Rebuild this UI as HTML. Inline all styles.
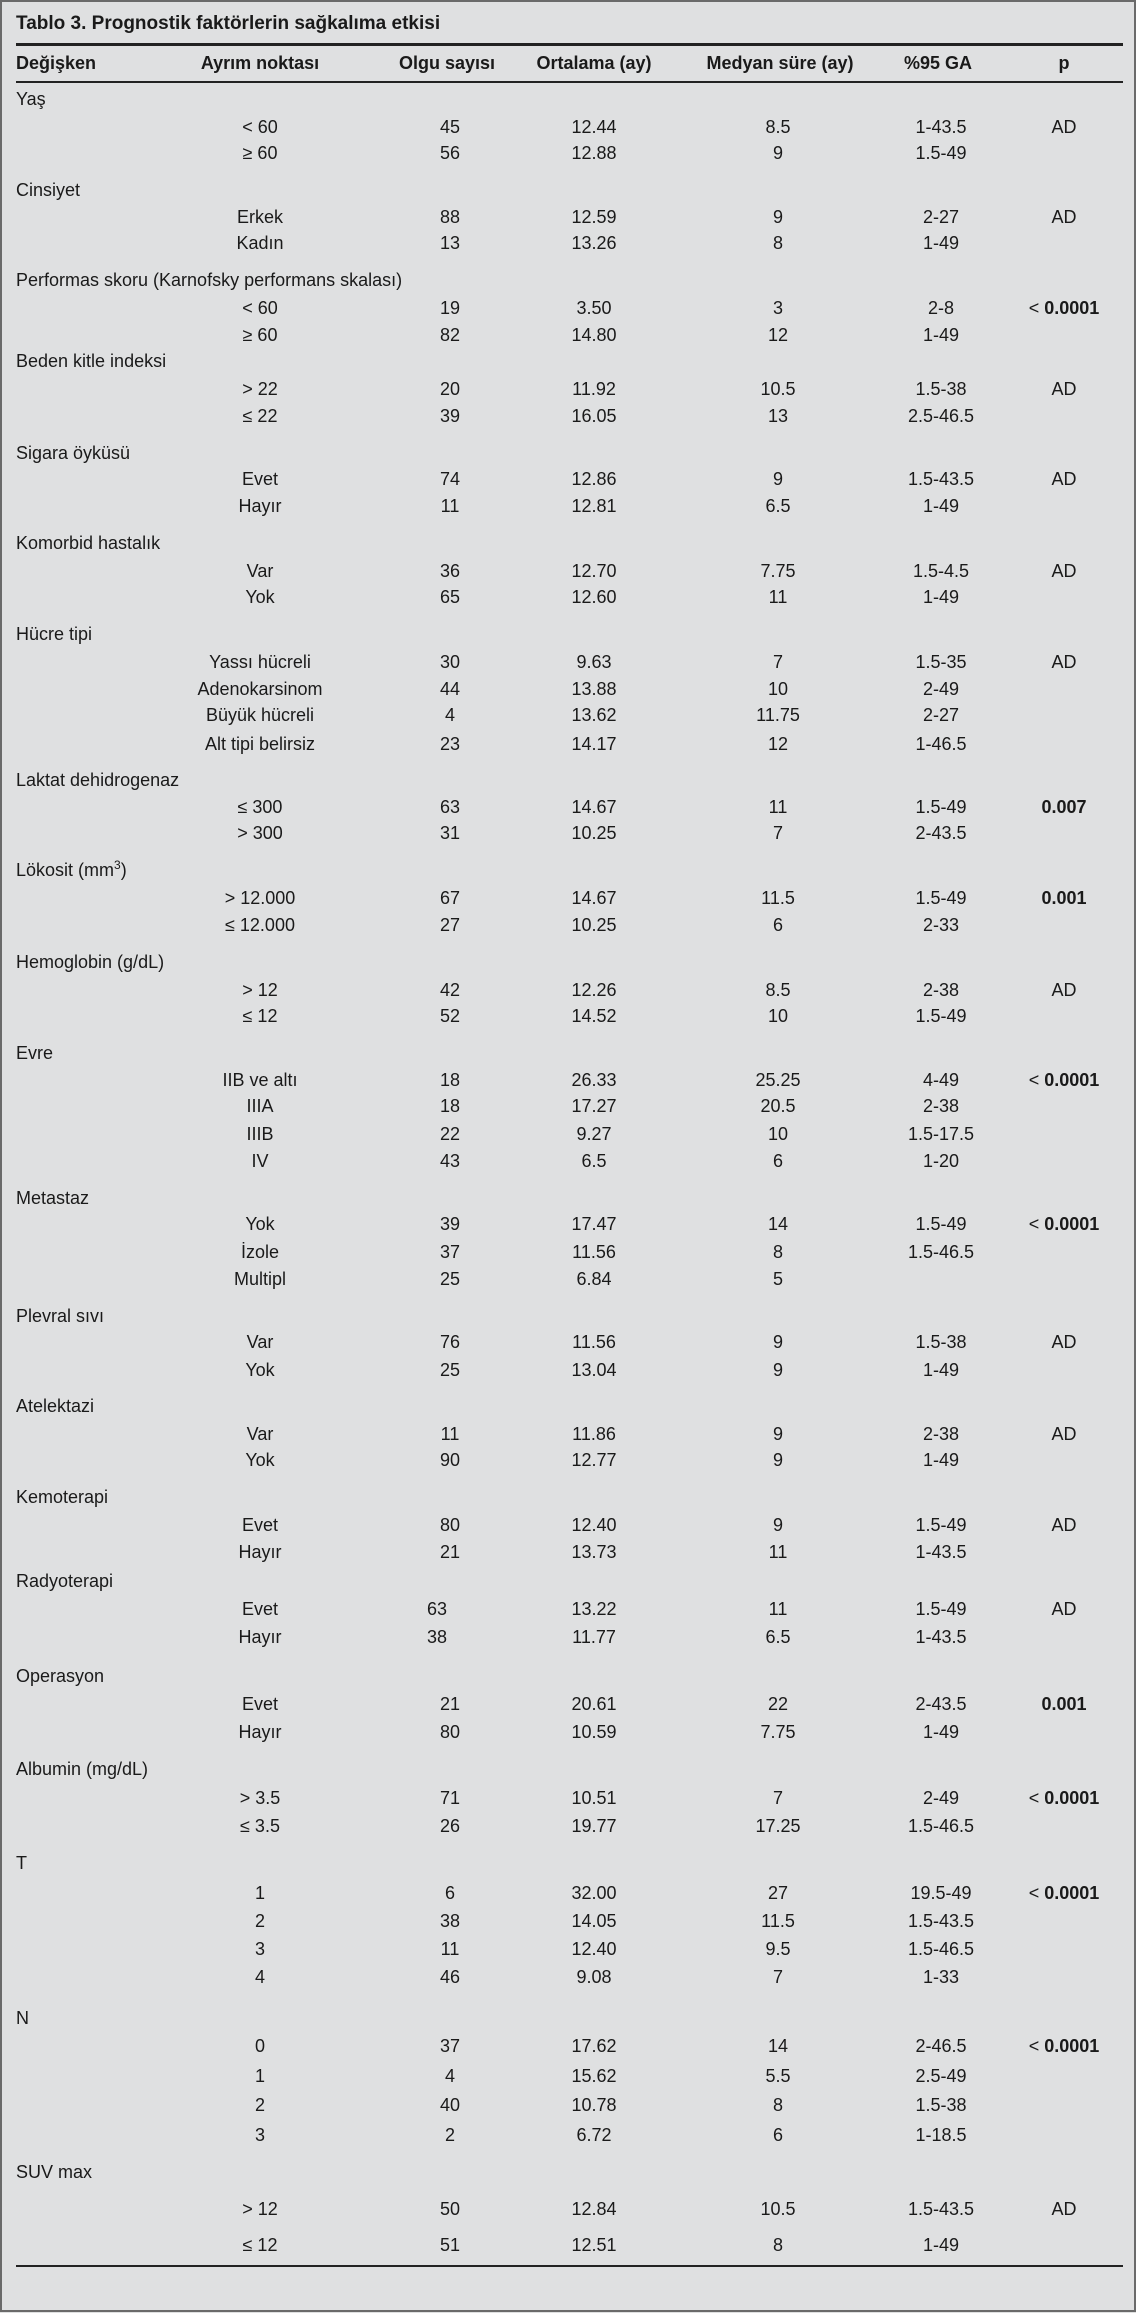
<!DOCTYPE html>
<html><head><meta charset="utf-8"><style>
html,body{margin:0;padding:0}
body{width:1136px;height:2313px;position:relative;background:#dfe0e1;font-family:"Liberation Sans",sans-serif;font-size:18px;color:#1a1a1a;overflow:hidden}
.frame{position:absolute;left:0;top:0;width:1132px;height:2308px;border:2px solid #6a6a6a;border-top-width:2px}
.r{position:absolute;left:0;width:1136px;height:26px;line-height:26px}
.r span{position:absolute;top:0;white-space:nowrap;text-align:center;width:200px}
.l{left:16px;text-align:left!important;width:auto!important}
.a{left:160px}.o{left:350px}.m{left:494px}.d{left:678px}.g{left:841px}.p{left:964px}
b{font-weight:bold}
.hr{position:absolute;left:16px;width:1107px;background:#222}
</style></head><body>
<div class="frame"></div>
<div class="r" style="top:11px;font-weight:bold;font-size:19px"><span class="l">Tablo 3. Prognostik faktörlerin sağkalıma etkisi</span></div>
<div class="hr" style="top:43px;height:3px"></div>
<div class="r" style="top:50px;font-weight:bold"><span class="l">Değişken</span><span class="a">Ayrım noktası</span><span class="o" style="left:347px">Olgu sayısı</span><span class="m">Ortalama (ay)</span><span class="d" style="left:680px">Medyan süre (ay)</span><span class="g" style="left:838px">%95 GA</span><span class="p">p</span></div>
<div class="hr" style="top:81px;height:2px"></div>

<div class="r" style="top:86px"><span class="l">Yaş</span></div>
<div class="r" style="top:114px"><span class="a">&lt; 60</span><span class="o">45</span><span class="m">12.44</span><span class="d">8.5</span><span class="g">1-43.5</span><span class="p">AD</span></div>
<div class="r" style="top:140px"><span class="a">≥ 60</span><span class="o">56</span><span class="m">12.88</span><span class="d">9</span><span class="g">1.5-49</span></div>
<div class="r" style="top:177px"><span class="l">Cinsiyet</span></div>
<div class="r" style="top:204px"><span class="a">Erkek</span><span class="o">88</span><span class="m">12.59</span><span class="d">9</span><span class="g">2-27</span><span class="p">AD</span></div>
<div class="r" style="top:230px"><span class="a">Kadın</span><span class="o">13</span><span class="m">13.26</span><span class="d">8</span><span class="g">1-49</span></div>
<div class="r" style="top:267px"><span class="l">Performas skoru (Karnofsky performans skalası)</span></div>
<div class="r" style="top:295px"><span class="a">&lt; 60</span><span class="o">19</span><span class="m">3.50</span><span class="d">3</span><span class="g">2-8</span><span class="p">&lt; <b>0.0001</b></span></div>
<div class="r" style="top:322px"><span class="a">≥ 60</span><span class="o">82</span><span class="m">14.80</span><span class="d">12</span><span class="g">1-49</span></div>
<div class="r" style="top:348px"><span class="l">Beden kitle indeksi</span></div>
<div class="r" style="top:376px"><span class="a">&gt; 22</span><span class="o">20</span><span class="m">11.92</span><span class="d">10.5</span><span class="g">1.5-38</span><span class="p">AD</span></div>
<div class="r" style="top:403px"><span class="a">≤ 22</span><span class="o">39</span><span class="m">16.05</span><span class="d">13</span><span class="g">2.5-46.5</span></div>
<div class="r" style="top:440px"><span class="l">Sigara öyküsü</span></div>
<div class="r" style="top:466px"><span class="a">Evet</span><span class="o">74</span><span class="m">12.86</span><span class="d">9</span><span class="g">1.5-43.5</span><span class="p">AD</span></div>
<div class="r" style="top:493px"><span class="a">Hayır</span><span class="o">11</span><span class="m">12.81</span><span class="d">6.5</span><span class="g">1-49</span></div>
<div class="r" style="top:530px"><span class="l">Komorbid hastalık</span></div>
<div class="r" style="top:558px"><span class="a">Var</span><span class="o">36</span><span class="m">12.70</span><span class="d">7.75</span><span class="g">1.5-4.5</span><span class="p">AD</span></div>
<div class="r" style="top:584px"><span class="a">Yok</span><span class="o">65</span><span class="m">12.60</span><span class="d">11</span><span class="g">1-49</span></div>
<div class="r" style="top:621px"><span class="l">Hücre tipi</span></div>
<div class="r" style="top:649px"><span class="a">Yassı hücreli</span><span class="o">30</span><span class="m">9.63</span><span class="d">7</span><span class="g">1.5-35</span><span class="p">AD</span></div>
<div class="r" style="top:676px"><span class="a">Adenokarsinom</span><span class="o">44</span><span class="m">13.88</span><span class="d">10</span><span class="g">2-49</span></div>
<div class="r" style="top:702px"><span class="a">Büyük hücreli</span><span class="o">4</span><span class="m">13.62</span><span class="d">11.75</span><span class="g">2-27</span></div>
<div class="r" style="top:731px"><span class="a">Alt tipi belirsiz</span><span class="o">23</span><span class="m">14.17</span><span class="d">12</span><span class="g">1-46.5</span></div>
<div class="r" style="top:767px"><span class="l">Laktat dehidrogenaz</span></div>
<div class="r" style="top:794px"><span class="a">≤ 300</span><span class="o">63</span><span class="m">14.67</span><span class="d">11</span><span class="g">1.5-49</span><span class="p"><b>0.007</b></span></div>
<div class="r" style="top:820px"><span class="a">&gt; 300</span><span class="o">31</span><span class="m">10.25</span><span class="d">7</span><span class="g">2-43.5</span></div>
<div class="r" style="top:857px"><span class="l">Lökosit (mm<sup style="font-size:12px;line-height:0">3</sup>)</span></div>
<div class="r" style="top:885px"><span class="a">&gt; 12.000</span><span class="o">67</span><span class="m">14.67</span><span class="d">11.5</span><span class="g">1.5-49</span><span class="p"><b>0.001</b></span></div>
<div class="r" style="top:912px"><span class="a">≤ 12.000</span><span class="o">27</span><span class="m">10.25</span><span class="d">6</span><span class="g">2-33</span></div>
<div class="r" style="top:949px"><span class="l">Hemoglobin (g/dL)</span></div>
<div class="r" style="top:977px"><span class="a">&gt; 12</span><span class="o">42</span><span class="m">12.26</span><span class="d">8.5</span><span class="g">2-38</span><span class="p">AD</span></div>
<div class="r" style="top:1003px"><span class="a">≤ 12</span><span class="o">52</span><span class="m">14.52</span><span class="d">10</span><span class="g">1.5-49</span></div>
<div class="r" style="top:1040px"><span class="l">Evre</span></div>
<div class="r" style="top:1067px"><span class="a">IIB ve altı</span><span class="o">18</span><span class="m">26.33</span><span class="d">25.25</span><span class="g">4-49</span><span class="p">&lt; <b>0.0001</b></span></div>
<div class="r" style="top:1093px"><span class="a">IIIA</span><span class="o">18</span><span class="m">17.27</span><span class="d">20.5</span><span class="g">2-38</span></div>
<div class="r" style="top:1121px"><span class="a">IIIB</span><span class="o">22</span><span class="m">9.27</span><span class="d">10</span><span class="g">1.5-17.5</span></div>
<div class="r" style="top:1148px"><span class="a">IV</span><span class="o">43</span><span class="m">6.5</span><span class="d">6</span><span class="g">1-20</span></div>
<div class="r" style="top:1185px"><span class="l">Metastaz</span></div>
<div class="r" style="top:1211px"><span class="a">Yok</span><span class="o">39</span><span class="m">17.47</span><span class="d">14</span><span class="g">1.5-49</span><span class="p">&lt; <b>0.0001</b></span></div>
<div class="r" style="top:1239px"><span class="a">İzole</span><span class="o">37</span><span class="m">11.56</span><span class="d">8</span><span class="g">1.5-46.5</span></div>
<div class="r" style="top:1266px"><span class="a">Multipl</span><span class="o">25</span><span class="m">6.84</span><span class="d">5</span></div>
<div class="r" style="top:1303px"><span class="l">Plevral sıvı</span></div>
<div class="r" style="top:1329px"><span class="a">Var</span><span class="o">76</span><span class="m">11.56</span><span class="d">9</span><span class="g">1.5-38</span><span class="p">AD</span></div>
<div class="r" style="top:1357px"><span class="a">Yok</span><span class="o">25</span><span class="m">13.04</span><span class="d">9</span><span class="g">1-49</span></div>
<div class="r" style="top:1393px"><span class="l">Atelektazi</span></div>
<div class="r" style="top:1421px"><span class="a">Var</span><span class="o">11</span><span class="m">11.86</span><span class="d">9</span><span class="g">2-38</span><span class="p">AD</span></div>
<div class="r" style="top:1447px"><span class="a">Yok</span><span class="o">90</span><span class="m">12.77</span><span class="d">9</span><span class="g">1-49</span></div>
<div class="r" style="top:1484px"><span class="l">Kemoterapi</span></div>
<div class="r" style="top:1512px"><span class="a">Evet</span><span class="o">80</span><span class="m">12.40</span><span class="d">9</span><span class="g">1.5-49</span><span class="p">AD</span></div>
<div class="r" style="top:1539px"><span class="a">Hayır</span><span class="o">21</span><span class="m">13.73</span><span class="d">11</span><span class="g">1-43.5</span></div>
<div class="r" style="top:1568px"><span class="l">Radyoterapi</span></div>
<div class="r" style="top:1596px"><span class="a">Evet</span><span class="o" style="left:337px">63</span><span class="m">13.22</span><span class="d">11</span><span class="g">1.5-49</span><span class="p">AD</span></div>
<div class="r" style="top:1624px"><span class="a">Hayır</span><span class="o" style="left:337px">38</span><span class="m">11.77</span><span class="d">6.5</span><span class="g">1-43.5</span></div>
<div class="r" style="top:1663px"><span class="l">Operasyon</span></div>
<div class="r" style="top:1691px"><span class="a">Evet</span><span class="o">21</span><span class="m">20.61</span><span class="d">22</span><span class="g">2-43.5</span><span class="p"><b>0.001</b></span></div>
<div class="r" style="top:1719px"><span class="a">Hayır</span><span class="o">80</span><span class="m">10.59</span><span class="d">7.75</span><span class="g">1-49</span></div>
<div class="r" style="top:1756px"><span class="l">Albumin (mg/dL)</span></div>
<div class="r" style="top:1785px"><span class="a">&gt; 3.5</span><span class="o">71</span><span class="m">10.51</span><span class="d">7</span><span class="g">2-49</span><span class="p">&lt; <b>0.0001</b></span></div>
<div class="r" style="top:1813px"><span class="a">≤ 3.5</span><span class="o">26</span><span class="m">19.77</span><span class="d">17.25</span><span class="g">1.5-46.5</span></div>
<div class="r" style="top:1850px"><span class="l">T</span></div>
<div class="r" style="top:1880px"><span class="a">1</span><span class="o">6</span><span class="m">32.00</span><span class="d">27</span><span class="g">19.5-49</span><span class="p">&lt; <b>0.0001</b></span></div>
<div class="r" style="top:1908px"><span class="a">2</span><span class="o">38</span><span class="m">14.05</span><span class="d">11.5</span><span class="g">1.5-43.5</span></div>
<div class="r" style="top:1936px"><span class="a">3</span><span class="o">11</span><span class="m">12.40</span><span class="d">9.5</span><span class="g">1.5-46.5</span></div>
<div class="r" style="top:1964px"><span class="a">4</span><span class="o">46</span><span class="m">9.08</span><span class="d">7</span><span class="g">1-33</span></div>
<div class="r" style="top:2005px"><span class="l">N</span></div>
<div class="r" style="top:2033px"><span class="a">0</span><span class="o">37</span><span class="m">17.62</span><span class="d">14</span><span class="g">2-46.5</span><span class="p">&lt; <b>0.0001</b></span></div>
<div class="r" style="top:2063px"><span class="a">1</span><span class="o">4</span><span class="m">15.62</span><span class="d">5.5</span><span class="g">2.5-49</span></div>
<div class="r" style="top:2092px"><span class="a">2</span><span class="o">40</span><span class="m">10.78</span><span class="d">8</span><span class="g">1.5-38</span></div>
<div class="r" style="top:2122px"><span class="a">3</span><span class="o">2</span><span class="m">6.72</span><span class="d">6</span><span class="g">1-18.5</span></div>
<div class="r" style="top:2159px"><span class="l">SUV max</span></div>
<div class="r" style="top:2196px"><span class="a">&gt; 12</span><span class="o">50</span><span class="m">12.84</span><span class="d">10.5</span><span class="g">1.5-43.5</span><span class="p">AD</span></div>
<div class="r" style="top:2232px"><span class="a">≤ 12</span><span class="o">51</span><span class="m">12.51</span><span class="d">8</span><span class="g">1-49</span></div>
<div class="hr" style="top:2265px;height:2px"></div>
</body></html>
